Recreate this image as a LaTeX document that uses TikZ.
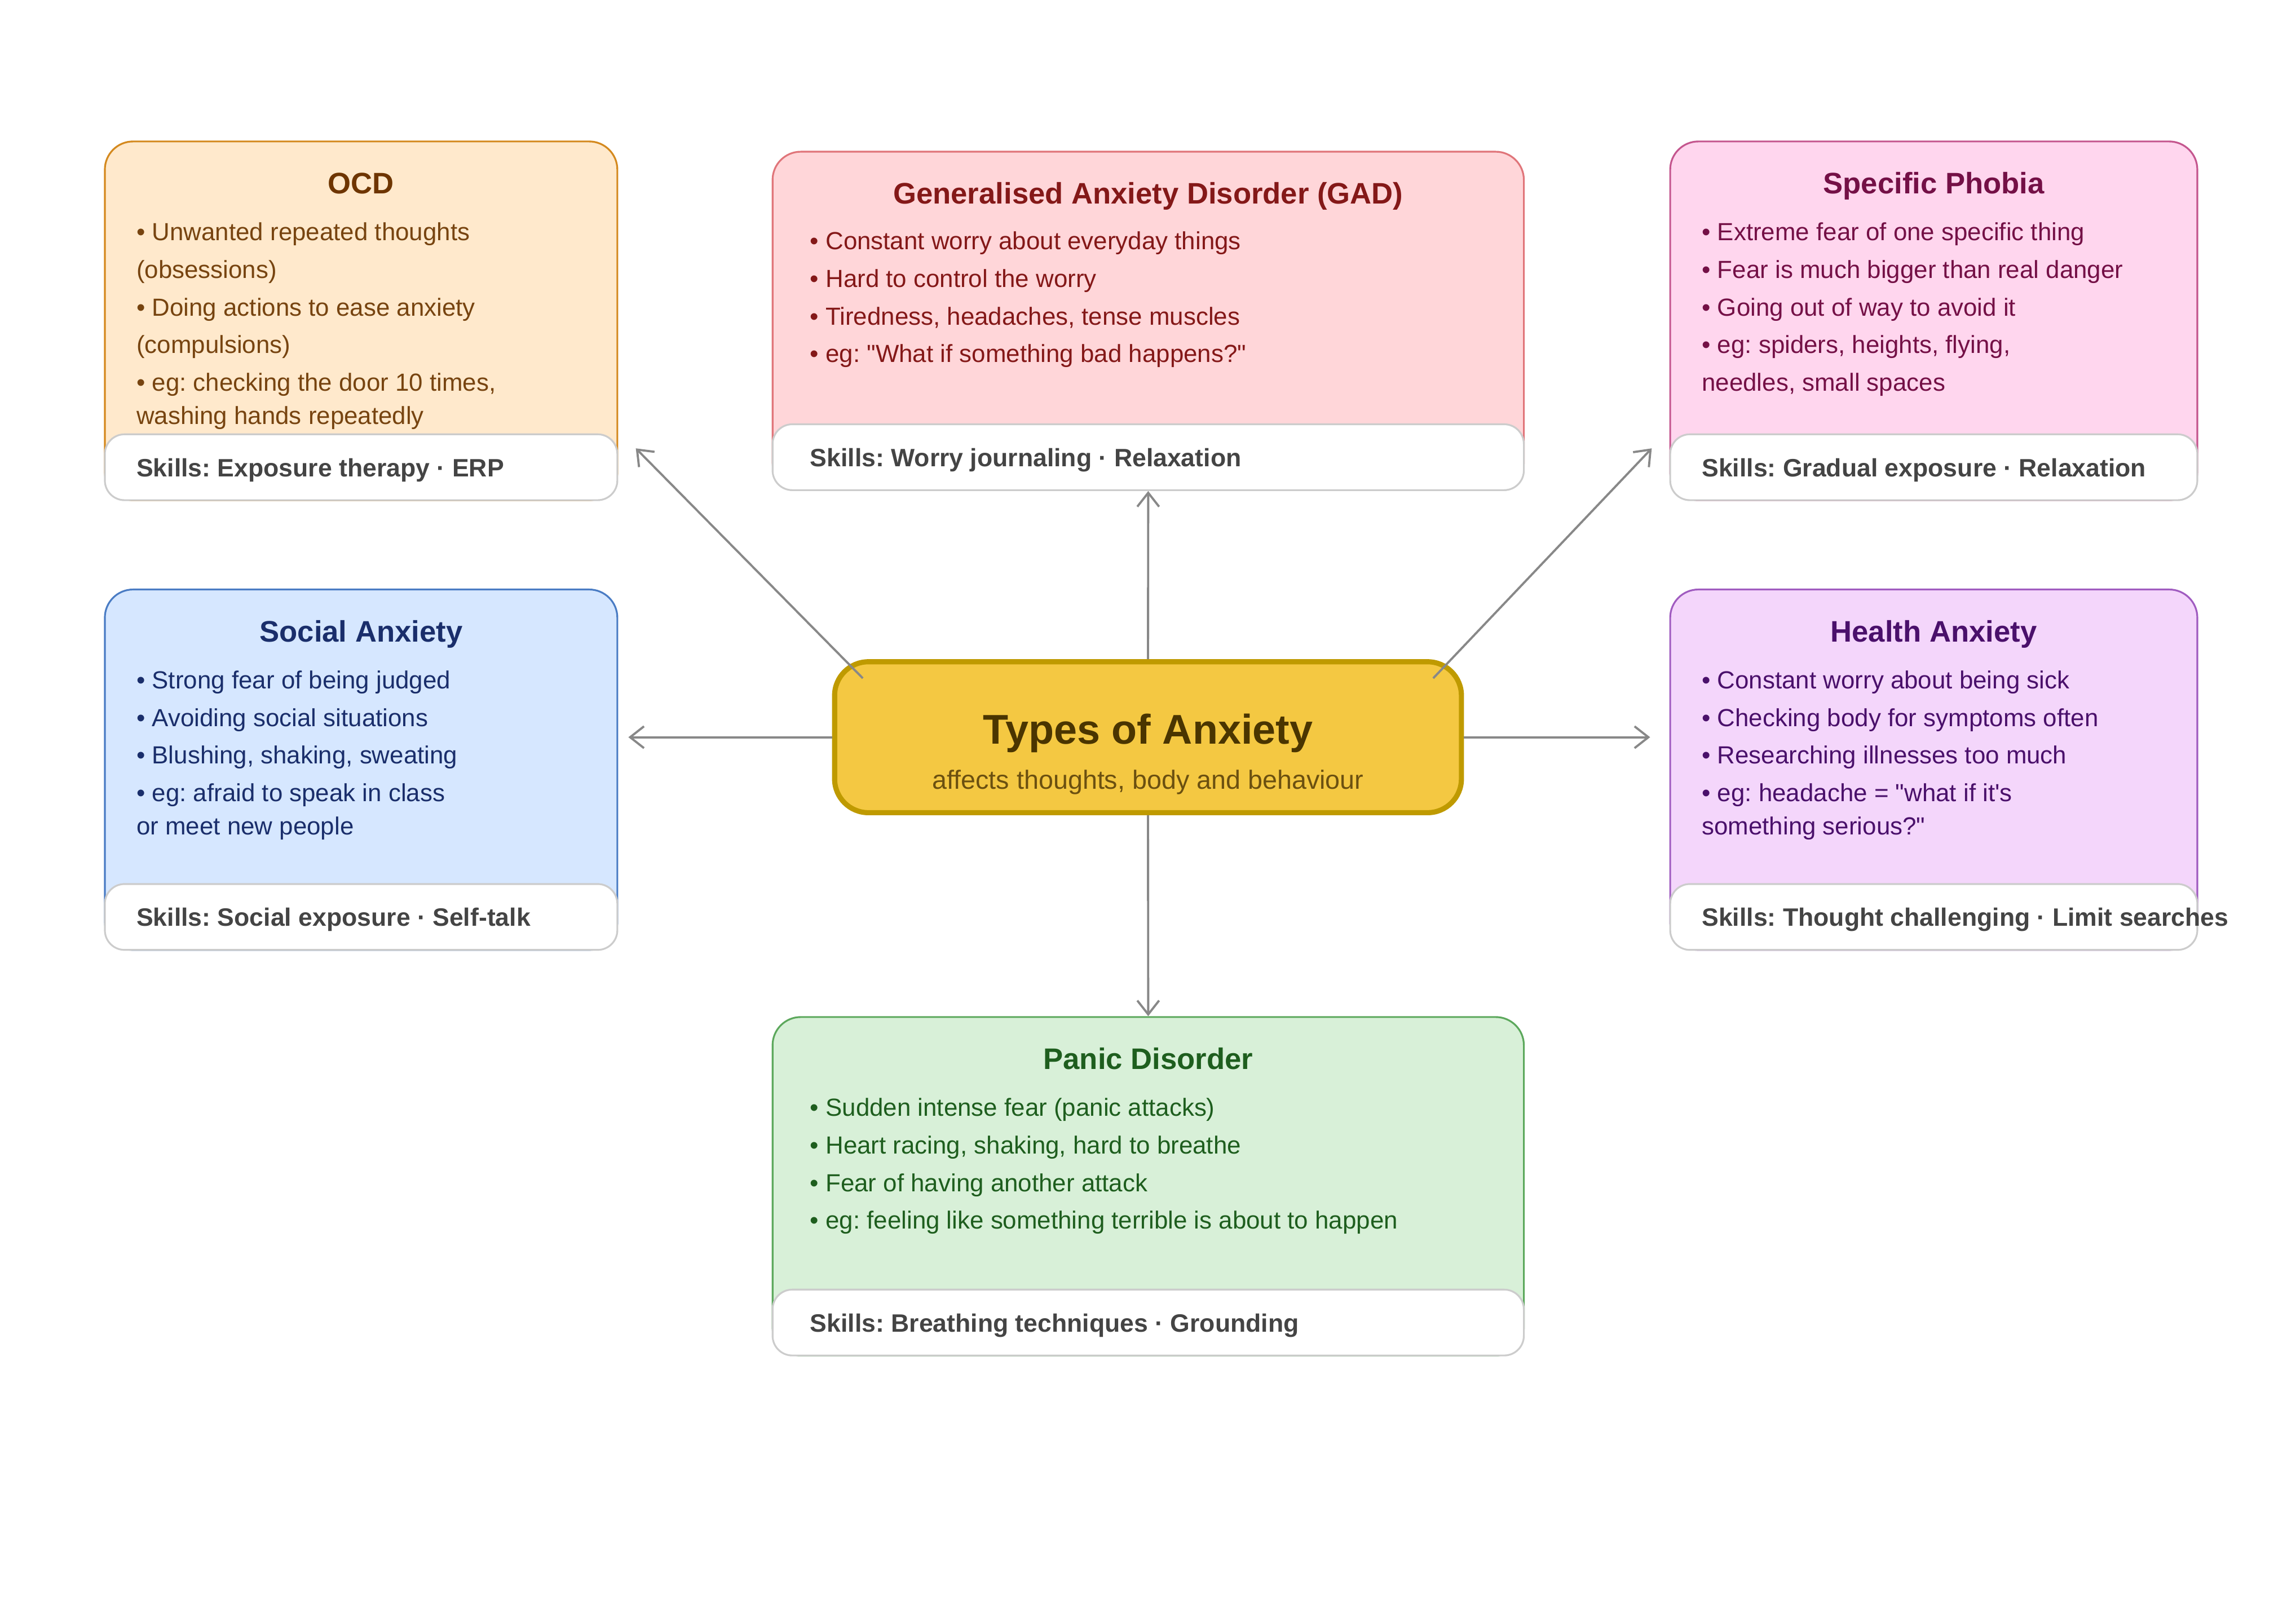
\documentclass[tikz,border=0pt]{standalone}
\usepackage{fontspec}
\setmainfont{Liberation Sans}
\usetikzlibrary{arrows.meta}
\frenchspacing

\definecolor{ocdfill}{HTML}{FFE9CC}
\definecolor{ocdline}{HTML}{D4891E}
\definecolor{ocdhead}{HTML}{6E3500}
\definecolor{ocdbody}{HTML}{774410}
\definecolor{gadfill}{HTML}{FFD6D9}
\definecolor{gadline}{HTML}{E0757A}
\definecolor{gadhead}{HTML}{841818}
\definecolor{phobiafill}{HTML}{FFD6EE}
\definecolor{phobialine}{HTML}{C4568E}
\definecolor{phobiahead}{HTML}{741046}
\definecolor{socialfill}{HTML}{D6E7FF}
\definecolor{socialline}{HTML}{4A7CC4}
\definecolor{socialhead}{HTML}{1A2E6B}
\definecolor{healthfill}{HTML}{F4D6FB}
\definecolor{healthline}{HTML}{A05CC0}
\definecolor{healthhead}{HTML}{4A106B}
\definecolor{panicfill}{HTML}{D8F0D8}
\definecolor{panicline}{HTML}{5CA85C}
\definecolor{panichead}{HTML}{1E5E1E}
\definecolor{hubfill}{HTML}{F4C842}
\definecolor{hubline}{HTML}{BF9A00}
\definecolor{hubhead}{HTML}{4A3500}
\definecolor{hubsub}{HTML}{6B5010}
\definecolor{bandline}{HTML}{CCCCCC}
\definecolor{skillgray}{HTML}{444444}
\definecolor{linkgray}{HTML}{888888}

\begin{document}
\begin{tikzpicture}[x=0.026cm, y=-0.026cm]
    \tikzset{
        card/.style={rounded corners=0.5cm, line width=0.9pt, anchor=north west, inner sep=0pt},
        skillband/.style={draw=bandline, fill=white, rounded corners=0.35cm, line width=0.9pt,
            anchor=south west, minimum height=1.17cm, inner sep=0pt},
        cardtitle/.style={font=\fontsize{15}{18}\selectfont\bfseries, anchor=base, inner sep=0pt},
        cardbody/.style={font=\fontsize{12.5}{19}\selectfont, align=left, anchor=north west, inner sep=0pt},
        skilltext/.style={font=\fontsize{12.7}{15}\selectfont\bfseries, text=skillgray, anchor=west, inner sep=0pt},
        hub/.style={draw=hubline, fill=hubfill, line width=2.6pt, rounded corners=0.6cm,
            minimum width=11.13cm, minimum height=2.68cm, inner sep=0pt},
        link/.style={draw=linkgray, line width=1.1pt, -{Straight Barb[length=7pt,width=11pt]}}
    }
    \useasboundingbox (0,0) rectangle (1568,1104);

    % OCD
    \node[card, fill=ocdfill, draw=ocdline, minimum width=9.1cm, minimum height=6.37cm] (ocd) at (71,96) {};
    \node[skillband, minimum width=9.1cm] (ocdband) at (ocd.south west) {};
    \node[cardtitle, text=ocdhead] (ocdtitle) at ([yshift=-0.944cm]ocd.north) {OCD};
    \node[cardbody, text=ocdbody] (ocdtext) at ([shift={(0.572cm,-1.45cm)}]ocd.north west) {%
        • Unwanted repeated thoughts\\
        (obsessions)\\
        • Doing actions to ease anxiety\\
        (compulsions)\\
        • eg: checking the door 10 times,\\[-2.2pt]
        washing hands repeatedly};
    \node[skilltext] (ocdskill) at ([shift={(0.572cm,-0.05cm)}]ocdband.west) {Skills: Exposure therapy · ERP};

    % GAD
    \node[card, fill=gadfill, draw=gadline, minimum width=13.34cm, minimum height=6.01cm] (gad) at (527,103) {};
    \node[skillband, minimum width=13.34cm] (gadband) at (gad.south west) {};
    \node[cardtitle, text=gadhead] (gadtitle) at ([yshift=-0.944cm]gad.north) {Generalised Anxiety Disorder (GAD)};
    \node[cardbody, text=gadhead] (gadtext) at ([shift={(0.676cm,-1.43cm)}]gad.north west) {%
        • Constant worry about everyday things\\
        • Hard to control the worry\\
        • Tiredness, headaches, tense muscles\\
        • eg: \textquotedbl What if something bad happens?\textquotedbl};
    \node[skilltext] (gadskill) at ([shift={(0.676cm,-0.05cm)}]gadband.west) {Skills: Worry journaling · Relaxation};

    % Specific Phobia
    \node[card, fill=phobiafill, draw=phobialine, minimum width=9.36cm, minimum height=6.37cm] (phobia) at (1140,96) {};
    \node[skillband, minimum width=9.36cm] (phobiaband) at (phobia.south west) {};
    \node[cardtitle, text=phobiahead] (phobiatitle) at ([yshift=-0.944cm]phobia.north) {Specific Phobia};
    \node[cardbody, text=phobiahead] (phobiatext) at ([shift={(0.572cm,-1.45cm)}]phobia.north west) {%
        • Extreme fear of one specific thing\\
        • Fear is much bigger than real danger\\
        • Going out of way to avoid it\\
        • eg: spiders, heights, flying,\\
        needles, small spaces};
    \node[skilltext] (phobiaskill) at ([shift={(0.572cm,-0.05cm)}]phobiaband.west) {Skills: Gradual exposure · Relaxation};

    % Social Anxiety
    \node[card, fill=socialfill, draw=socialline, minimum width=9.1cm, minimum height=6.4cm] (social) at (71,402) {};
    \node[skillband, minimum width=9.1cm] (socialband) at (social.south west) {};
    \node[cardtitle, text=socialhead] (socialtitle) at ([yshift=-0.944cm]social.north) {Social Anxiety};
    \node[cardbody, text=socialhead] (socialtext) at ([shift={(0.572cm,-1.45cm)}]social.north west) {%
        • Strong fear of being judged\\
        • Avoiding social situations\\
        • Blushing, shaking, sweating\\
        • eg: afraid to speak in class\\[-2.2pt]
        or meet new people};
    \node[skilltext] (socialskill) at ([shift={(0.572cm,-0.05cm)}]socialband.west) {Skills: Social exposure · Self-talk};

    % Health Anxiety
    \node[card, fill=healthfill, draw=healthline, minimum width=9.36cm, minimum height=6.4cm] (health) at (1140,402) {};
    \node[skillband, minimum width=9.36cm] (healthband) at (health.south west) {};
    \node[cardtitle, text=healthhead] (healthtitle) at ([yshift=-0.944cm]health.north) {Health Anxiety};
    \node[cardbody, text=healthhead] (healthtext) at ([shift={(0.572cm,-1.45cm)}]health.north west) {%
        • Constant worry about being sick\\
        • Checking body for symptoms often\\
        • Researching illnesses too much\\
        • eg: headache = \textquotedbl what if it\textquotesingle s\\[-2.2pt]
        something serious?\textquotedbl};
    \node[skilltext] (healthskill) at ([shift={(0.572cm,-0.05cm)}]healthband.west) {Skills: Thought challenging · Limit searches};

    % Panic Disorder
    \node[card, fill=panicfill, draw=panicline, minimum width=13.34cm, minimum height=6.01cm] (panic) at (527,694) {};
    \node[skillband, minimum width=13.34cm] (panicband) at (panic.south west) {};
    \node[cardtitle, text=panichead] (panictitle) at ([yshift=-0.944cm]panic.north) {Panic Disorder};
    \node[cardbody, text=panichead] (panictext) at ([shift={(0.676cm,-1.45cm)}]panic.north west) {%
        • Sudden intense fear (panic attacks)\\
        • Heart racing, shaking, hard to breathe\\
        • Fear of having another attack\\
        • eg: feeling like something terrible is about to happen};
    \node[skilltext] (panicskill) at ([shift={(0.676cm,-0.05cm)}]panicband.west) {Skills: Breathing techniques · Grounding};

    % centre
    \node[hub] (hub) at (784,503.5) {};
    \node[font=\fontsize{21}{25}\selectfont\bfseries, text=hubhead, inner sep=0pt] (hubtitle)
        at ([yshift=0.07cm]hub.center) {Types of Anxiety};
    \node[font=\fontsize{13.3}{16}\selectfont, text=hubsub, inner sep=0pt] (hubsubtitle)
        at ([yshift=-0.80cm]hub.center) {affects thoughts, body and behaviour};

    \draw[link] ([shift={(21,13)}]hub.north west) -- ([shift={(12,-36)}]ocd.south east);
    \draw[link] (hub.north) -- (gad.south);
    \draw[link] ([shift={(-21,13)}]hub.north east) -- ([shift={(-12,-36)}]phobia.south west);
    \draw[link, shorten >=0.18cm] (hub.west) -- (hub.west -| social.east);
    \draw[link, shorten >=0.34cm] (hub.east) -- (hub.east -| health.west);
    \draw[link] (hub.south) -- (panic.north);
\end{tikzpicture}
\end{document}
